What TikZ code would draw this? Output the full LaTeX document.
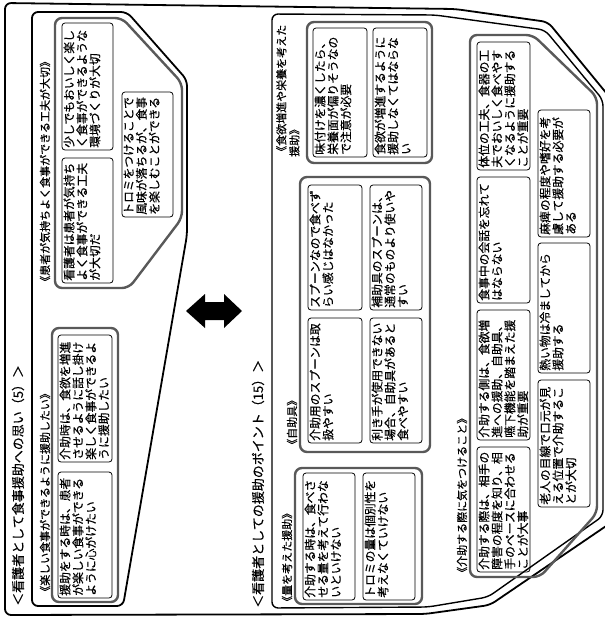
\documentclass[tikz,border=0pt]{standalone}
\usepackage{fontspec}
\newfontfamily\jp{Noto Sans CJK JP}
\newfontfamily\jpb[FakeBold=0.4]{Noto Sans CJK JP}
\usetikzlibrary{calc}
\tikzset{
  tbox/.style={draw=black, line width=0.8pt, rounded corners=3pt, inner sep=0pt},
  grp/.style={draw=black!65, line width=2.4pt, rounded corners=7pt},
  frm/.style={draw=black, line width=1.8pt, rounded corners=6pt},
  btxt/.style={rotate=90, anchor=north west, align=left, inner sep=0pt, font=\jpb\fontsize{11.8}{12.9}\selectfont},
  lbl/.style={rotate=90, anchor=west, inner sep=0pt, font=\jpb\fontsize{11}{13}\selectfont},
  ttl/.style={rotate=90, anchor=west, inner sep=0pt, font=\jpb\fontsize{13}{15}\selectfont},
}
\newcommand\tbx[6]{%
  \node[tbox, minimum width={#3pt-#2pt}, minimum height={#5pt-#4pt}] (#1) at ({(#2+#3)/2},{(#4+#5)/2}) {};
  \node[btxt] (#1t) at ([xshift=1.8pt,yshift=2.5pt]#1.south west) {#6};
}
\begin{document}
\begin{tikzpicture}[x=1pt,y=-1pt]
\useasboundingbox (0,0) rectangle (605,619);
% outer frame
\draw[frm] (5,615) -- (5,3) -- (455,9) -- (548,22) -- (612,100) -- (612,522) -- (490,605) -- (425,614) -- cycle;
% left panel frame
\draw[frm] (32,606) -- (32,12) -- (127,12) -- (187,80) -- (187,235) -- (123,606) -- cycle;
% right panel frame
\draw[frm, line width=1.4pt] (272,608) -- (272,14) -- (435,15) -- (545,30) -- (603,100) -- (603,516) -- (488,597) -- (428,607) -- cycle;

% titles
\node[ttl] (t1) at (18,606) {＜看護者として食事援助への思い（5）＞};
\node[ttl] (t2) at (258,608) {＜看護者としての援助のポイント（15）＞};

% left groups
\draw[grp] (55,18) -- (122,18) -- (182,83) -- (182,218) -- (129,288) -- (55,288) -- cycle;
\draw[grp] (52,328) rectangle (118,602);
\node[lbl] (g1) at (45,287) {《患者が気持ちよく食事ができる工夫が大切》};
\node[lbl] (g2) at (45,597) {《楽しい食事ができるように援助したい》};

\tbx{L1}{62}{113}{23}{150}{少しでもおいしく楽し\\く食事ができるような\\環境づくりが大切}
\tbx{L2}{62}{113}{158}{283}{看護者は患者が気持ち\\よく食事ができる工夫\\が大切だ}
\tbx{L3}{122}{173}{92}{217}{トロミをつけることで\\風味が落ちるが、食事\\を楽しむことができる}
\tbx{L4}{58}{112}{335}{462}{介助時は、食欲を増進\\させるように話し掛け\\楽しく食事ができるよ\\うに援助したい}
\tbx{L5}{58}{112}{472}{598}{援助をする時は、患者\\が楽しい食事ができる\\ように心がけたい}

% arrow
\fill[black] (186,311) -- (205,294) -- (205,302) -- (224,302) -- (224,294) -- (242,311) -- (224,328) -- (224,320) -- (205,320) -- (205,328) -- cycle;

% right groups
\draw[grp] (307,22) rectangle (432,163);
\draw[grp] (300,177) rectangle (430,452);
\draw[grp] (295,468) rectangle (422,604);
\draw[grp] (470,35) -- (533,35) -- (597,97) -- (597,513) -- (540,577) -- (470,577) -- cycle;
\node[rotate=90, anchor=north west, align=left, inner sep=0pt, font=\jpb\fontsize{11}{13}\selectfont] (g3) at (276,157) {《食欲増進や栄養を考えた\\援助》};
\node[lbl] (g4) at (292,450) {《自助具》};
\node[lbl] (g5) at (287,607) {《量を考えた援助》};
\node[lbl] (g6) at (462,578) {《介助する際に気をつけること》};

\tbx{R1}{313}{367}{28}{157}{味付けを濃くしたら、\\栄養面が偏りそうなの\\で注意が必要}
\tbx{R2}{373}{427}{28}{157}{食欲が増進するように\\援助しなくてはならな\\い}
\tbx{R3}{308}{362}{185}{310}{スプーンなので食べず\\らい感じはなかった}
\tbx{R4}{370}{422}{185}{310}{補助具のスプーンは、\\通常のものより使いや\\すい}
\tbx{R5}{308}{362}{318}{443}{介助用のスプーンは取\\扱やすい}
\tbx{R6}{370}{422}{318}{443}{利き手が使用できない\\場合、自助具があると\\食べやすい}
\tbx{R7}{303}{355}{473}{600}{介助する時は、食べさ\\せる量を考えて行わな\\いといけない}
\tbx{R8}{363}{415}{473}{600}{トロミの量は個別性を\\考えなくていけない}
\tbx{R9}{477}{530}{42}{170}{体位の工夫、食器の工\\夫でおいしく食べやす\\くなるように援助する\\ことが重要}
\tbx{R10}{477}{530}{177}{303}{食事中の会話を忘れて\\はならない}
\tbx{R11}{477}{530}{310}{440}{介助する側は、食欲増\\進への援助、自助具、\\嚥下機能を踏まえた援\\助が重要}
\tbx{R12}{477}{530}{447}{572}{介助する際は、相手の\\障害の程度を知り、相\\手のペースに合わせる\\ことが大事}
\tbx{R13}{538}{590}{110}{237}{麻痺の程度や嗜好を考\\慮して援助する必要が\\ある}
\tbx{R14}{538}{590}{243}{373}{熱い物は冷ましてから\\援助する}
\tbx{R15}{538}{590}{380}{507}{老人の目線で口元が見\\える位置で介助するこ\\とが大切}
\end{tikzpicture}
\end{document}
